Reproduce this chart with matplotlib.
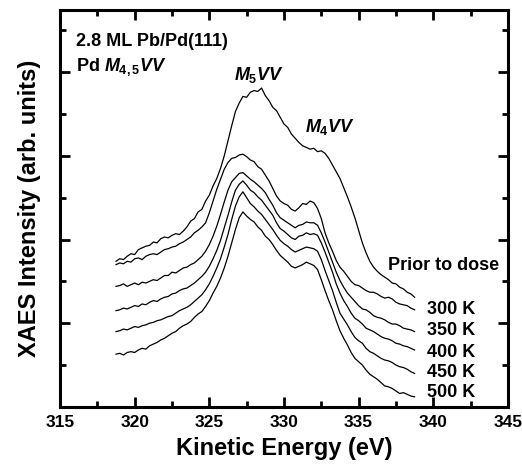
import matplotlib
matplotlib.use("Agg")
import matplotlib.pyplot as plt
from matplotlib.ticker import MultipleLocator, NullFormatter

plt.rcParams['font.family'] = ['Liberation Sans', 'DejaVu Sans']
plt.rcParams['font.weight'] = 'bold'
plt.rcParams['mathtext.fontset'] = 'custom'
plt.rcParams['mathtext.it'] = 'Liberation Sans:bold:italic'
plt.rcParams['mathtext.rm'] = 'Liberation Sans:bold'
plt.rcParams['mathtext.bf'] = 'Liberation Sans:bold'

# kinetic energy (eV)
energy = [318.75, 319.0, 319.25, 319.5, 319.75, 320.0, 320.25, 320.5, 320.75, 321.0,
          321.25, 321.5, 321.75, 322.0, 322.25, 322.5, 322.75, 323.0, 323.25, 323.5,
          323.75, 324.0, 324.25, 324.5, 324.75, 325.0, 325.25, 325.5, 325.75, 326.0,
          326.25, 326.5, 326.75, 327.0, 327.25, 327.5, 327.75, 328.0, 328.25, 328.5,
          328.75, 329.0, 329.25, 329.5, 329.75, 330.0, 330.25, 330.5, 330.75, 331.0,
          331.25, 331.5, 331.75, 332.0, 332.25, 332.5, 332.75, 333.0, 333.25, 333.5,
          333.75, 334.0, 334.25, 334.5, 334.75, 335.0, 335.25, 335.5, 335.75, 336.0,
          336.25, 336.5, 336.75, 337.0, 337.25, 337.5, 337.75, 338.0, 338.25, 338.5,
          338.75]

# spectra (offset, arb. units)
prior = [1.74, 1.77, 1.76, 1.80, 1.83, 1.82, 1.88, 1.90, 1.92, 1.93,
         1.97, 1.96, 2.01, 2.03, 2.02, 2.05, 2.07, 2.06, 2.10, 2.15,
         2.22, 2.25, 2.33, 2.36, 2.46, 2.53, 2.64, 2.73, 2.85, 3.00,
         3.18, 3.36, 3.53, 3.63, 3.71, 3.70, 3.76, 3.78, 3.77, 3.81,
         3.72, 3.66, 3.58, 3.54, 3.46, 3.38, 3.34, 3.26, 3.21, 3.16,
         3.12, 3.10, 3.08, 3.09, 3.05, 3.06, 3.03, 2.97, 2.89, 2.81,
         2.73, 2.62, 2.51, 2.39, 2.26, 2.11, 1.96, 1.84, 1.74, 1.67,
         1.62, 1.58, 1.55, 1.52, 1.48, 1.47, 1.43, 1.41, 1.37, 1.35,
         1.31]
k300 = [1.70, 1.72, 1.71, 1.74, 1.73, 1.77, 1.78, 1.76, 1.80, 1.82,
        1.83, 1.82, 1.85, 1.88, 1.89, 1.91, 1.92, 1.95, 1.97, 2.00,
        2.03, 2.08, 2.11, 2.15, 2.20, 2.32, 2.46, 2.60, 2.72, 2.84,
        2.92, 2.97, 2.98, 3.01, 3.02, 2.99, 2.95, 2.93, 2.87, 2.84,
        2.77, 2.70, 2.61, 2.52, 2.46, 2.43, 2.41, 2.36, 2.34, 2.38,
        2.43, 2.42, 2.46, 2.44, 2.37, 2.25, 2.08, 1.96, 1.86, 1.75,
        1.67, 1.62, 1.56, 1.50, 1.46, 1.45, 1.42, 1.39, 1.37, 1.37,
        1.35, 1.32, 1.30, 1.31, 1.29, 1.25, 1.23, 1.22, 1.21, 1.18,
        1.16]
k350 = [1.44, 1.45, 1.47, 1.44, 1.46, 1.48, 1.46, 1.49, 1.48, 1.50,
        1.52, 1.51, 1.54, 1.57, 1.57, 1.61, 1.60, 1.63, 1.66, 1.67,
        1.70, 1.72, 1.76, 1.80, 1.86, 1.94, 2.04, 2.16, 2.30, 2.45,
        2.59, 2.69, 2.74, 2.79, 2.80, 2.76, 2.72, 2.69, 2.65, 2.61,
        2.56, 2.48, 2.41, 2.32, 2.26, 2.23, 2.20, 2.17, 2.14, 2.17,
        2.18, 2.21, 2.20, 2.20, 2.17, 2.08, 1.97, 1.85, 1.73, 1.61,
        1.51, 1.43, 1.36, 1.31, 1.26, 1.21, 1.17, 1.16, 1.13, 1.09,
        1.07, 1.06, 1.04, 1.01, 0.99, 0.99, 0.97, 0.94, 0.93, 0.92,
        0.90]
k400 = [1.15, 1.16, 1.18, 1.17, 1.19, 1.21, 1.20, 1.23, 1.22, 1.25,
        1.27, 1.26, 1.29, 1.31, 1.32, 1.35, 1.36, 1.39, 1.41, 1.42,
        1.45, 1.48, 1.52, 1.56, 1.61, 1.68, 1.77, 1.87, 1.99, 2.14,
        2.29, 2.45, 2.59, 2.66, 2.70, 2.65, 2.59, 2.56, 2.51, 2.47,
        2.41, 2.35, 2.29, 2.20, 2.13, 2.10, 2.06, 2.02, 2.00, 2.04,
        2.05, 2.08, 2.06, 2.07, 2.05, 1.96, 1.85, 1.73, 1.61, 1.47,
        1.36, 1.27, 1.20, 1.12, 1.06, 1.03, 0.99, 0.94, 0.92, 0.90,
        0.87, 0.84, 0.82, 0.81, 0.79, 0.76, 0.75, 0.73, 0.72, 0.70,
        0.68]
k450 = [0.90, 0.91, 0.93, 0.92, 0.94, 0.96, 0.95, 0.97, 0.98, 1.00,
        1.01, 1.03, 1.04, 1.06, 1.08, 1.09, 1.12, 1.15, 1.17, 1.19,
        1.22, 1.26, 1.30, 1.34, 1.40, 1.47, 1.56, 1.66, 1.77, 1.91,
        2.06, 2.24, 2.40, 2.51, 2.57, 2.50, 2.43, 2.39, 2.34, 2.30,
        2.24, 2.18, 2.12, 2.05, 1.99, 1.95, 1.92, 1.88, 1.85, 1.87,
        1.89, 1.91, 1.90, 1.89, 1.86, 1.76, 1.63, 1.51, 1.39, 1.25,
        1.12, 1.05, 0.98, 0.90, 0.83, 0.79, 0.76, 0.70, 0.66, 0.64,
        0.61, 0.58, 0.56, 0.55, 0.53, 0.50, 0.48, 0.47, 0.45, 0.42,
        0.40]
k500 = [0.63, 0.64, 0.62, 0.65, 0.66, 0.65, 0.68, 0.70, 0.69, 0.73,
        0.75, 0.77, 0.80, 0.82, 0.85, 0.88, 0.90, 0.94, 0.97, 0.99,
        1.02, 1.07, 1.11, 1.14, 1.20, 1.27, 1.36, 1.44, 1.54, 1.66,
        1.80, 1.96, 2.12, 2.26, 2.33, 2.28, 2.24, 2.21, 2.15, 2.11,
        2.04, 2.00, 1.94, 1.87, 1.81, 1.77, 1.73, 1.68, 1.66, 1.68,
        1.70, 1.73, 1.71, 1.69, 1.64, 1.52, 1.39, 1.27, 1.16, 1.03,
        0.91, 0.82, 0.74, 0.65, 0.58, 0.54, 0.50, 0.44, 0.39, 0.36,
        0.33, 0.29, 0.25, 0.24, 0.22, 0.19, 0.16, 0.17, 0.15, 0.13,
        0.12]

series = [prior, k300, k350, k400, k450, k500]
labels = ["Prior to dose", "300 K", "350 K", "400 K", "450 K", "500 K"]
label_y = [1.69, 1.16, 0.91, 0.65, 0.41, 0.17]
label_x = [336.95, 339.55, 339.55, 339.55, 339.55, 339.55]

fig = plt.figure(figsize=(5.22, 4.65), dpi=100)
ax = fig.add_axes([0.115, 0.125, 0.858, 0.853])

for s in series:
    ax.plot(energy, s, color='k', lw=0.9)

for lab, lx, ly in zip(labels, label_x, label_y):
    ax.text(lx, ly, lab, fontsize=13, fontweight='bold', va='center', ha='left')

ax.text(316.1, 4.37, "2.8 ML Pb/Pd(111)", fontsize=13, fontweight='bold', va='center')
ax.text(316.1, 4.06, "Pd $M_{4,5}VV$", fontsize=13, fontweight='bold', va='center')
ax.text(328.3, 3.97, "$M_5VV$", fontsize=13, ha='center', va='center')
ax.text(333.1, 3.34, "$M_4VV$", fontsize=13, ha='center', va='center')

ax.set_xlim(315, 345)
ax.set_ylim(0, 4.74)
ax.xaxis.set_major_locator(MultipleLocator(5))
ax.xaxis.set_minor_locator(MultipleLocator(2.5))
ax.yaxis.set_major_locator(MultipleLocator(1))
ax.yaxis.set_minor_locator(MultipleLocator(0.5))
ax.yaxis.set_major_formatter(NullFormatter())

ax.tick_params(which='both', direction='in', top=True, right=True, width=2)
ax.tick_params(which='major', length=7, labelsize=12.5, pad=6)
ax.tick_params(which='minor', length=4)
for sp in ax.spines.values():
    sp.set_linewidth(2.2)

ax.set_xlabel("Kinetic Energy (eV)", fontsize=17, fontweight='bold', labelpad=5)
ax.set_ylabel("XAES Intensity (arb. units)", fontsize=17, fontweight='bold', labelpad=8)

fig.savefig("out.png", dpi=100)
